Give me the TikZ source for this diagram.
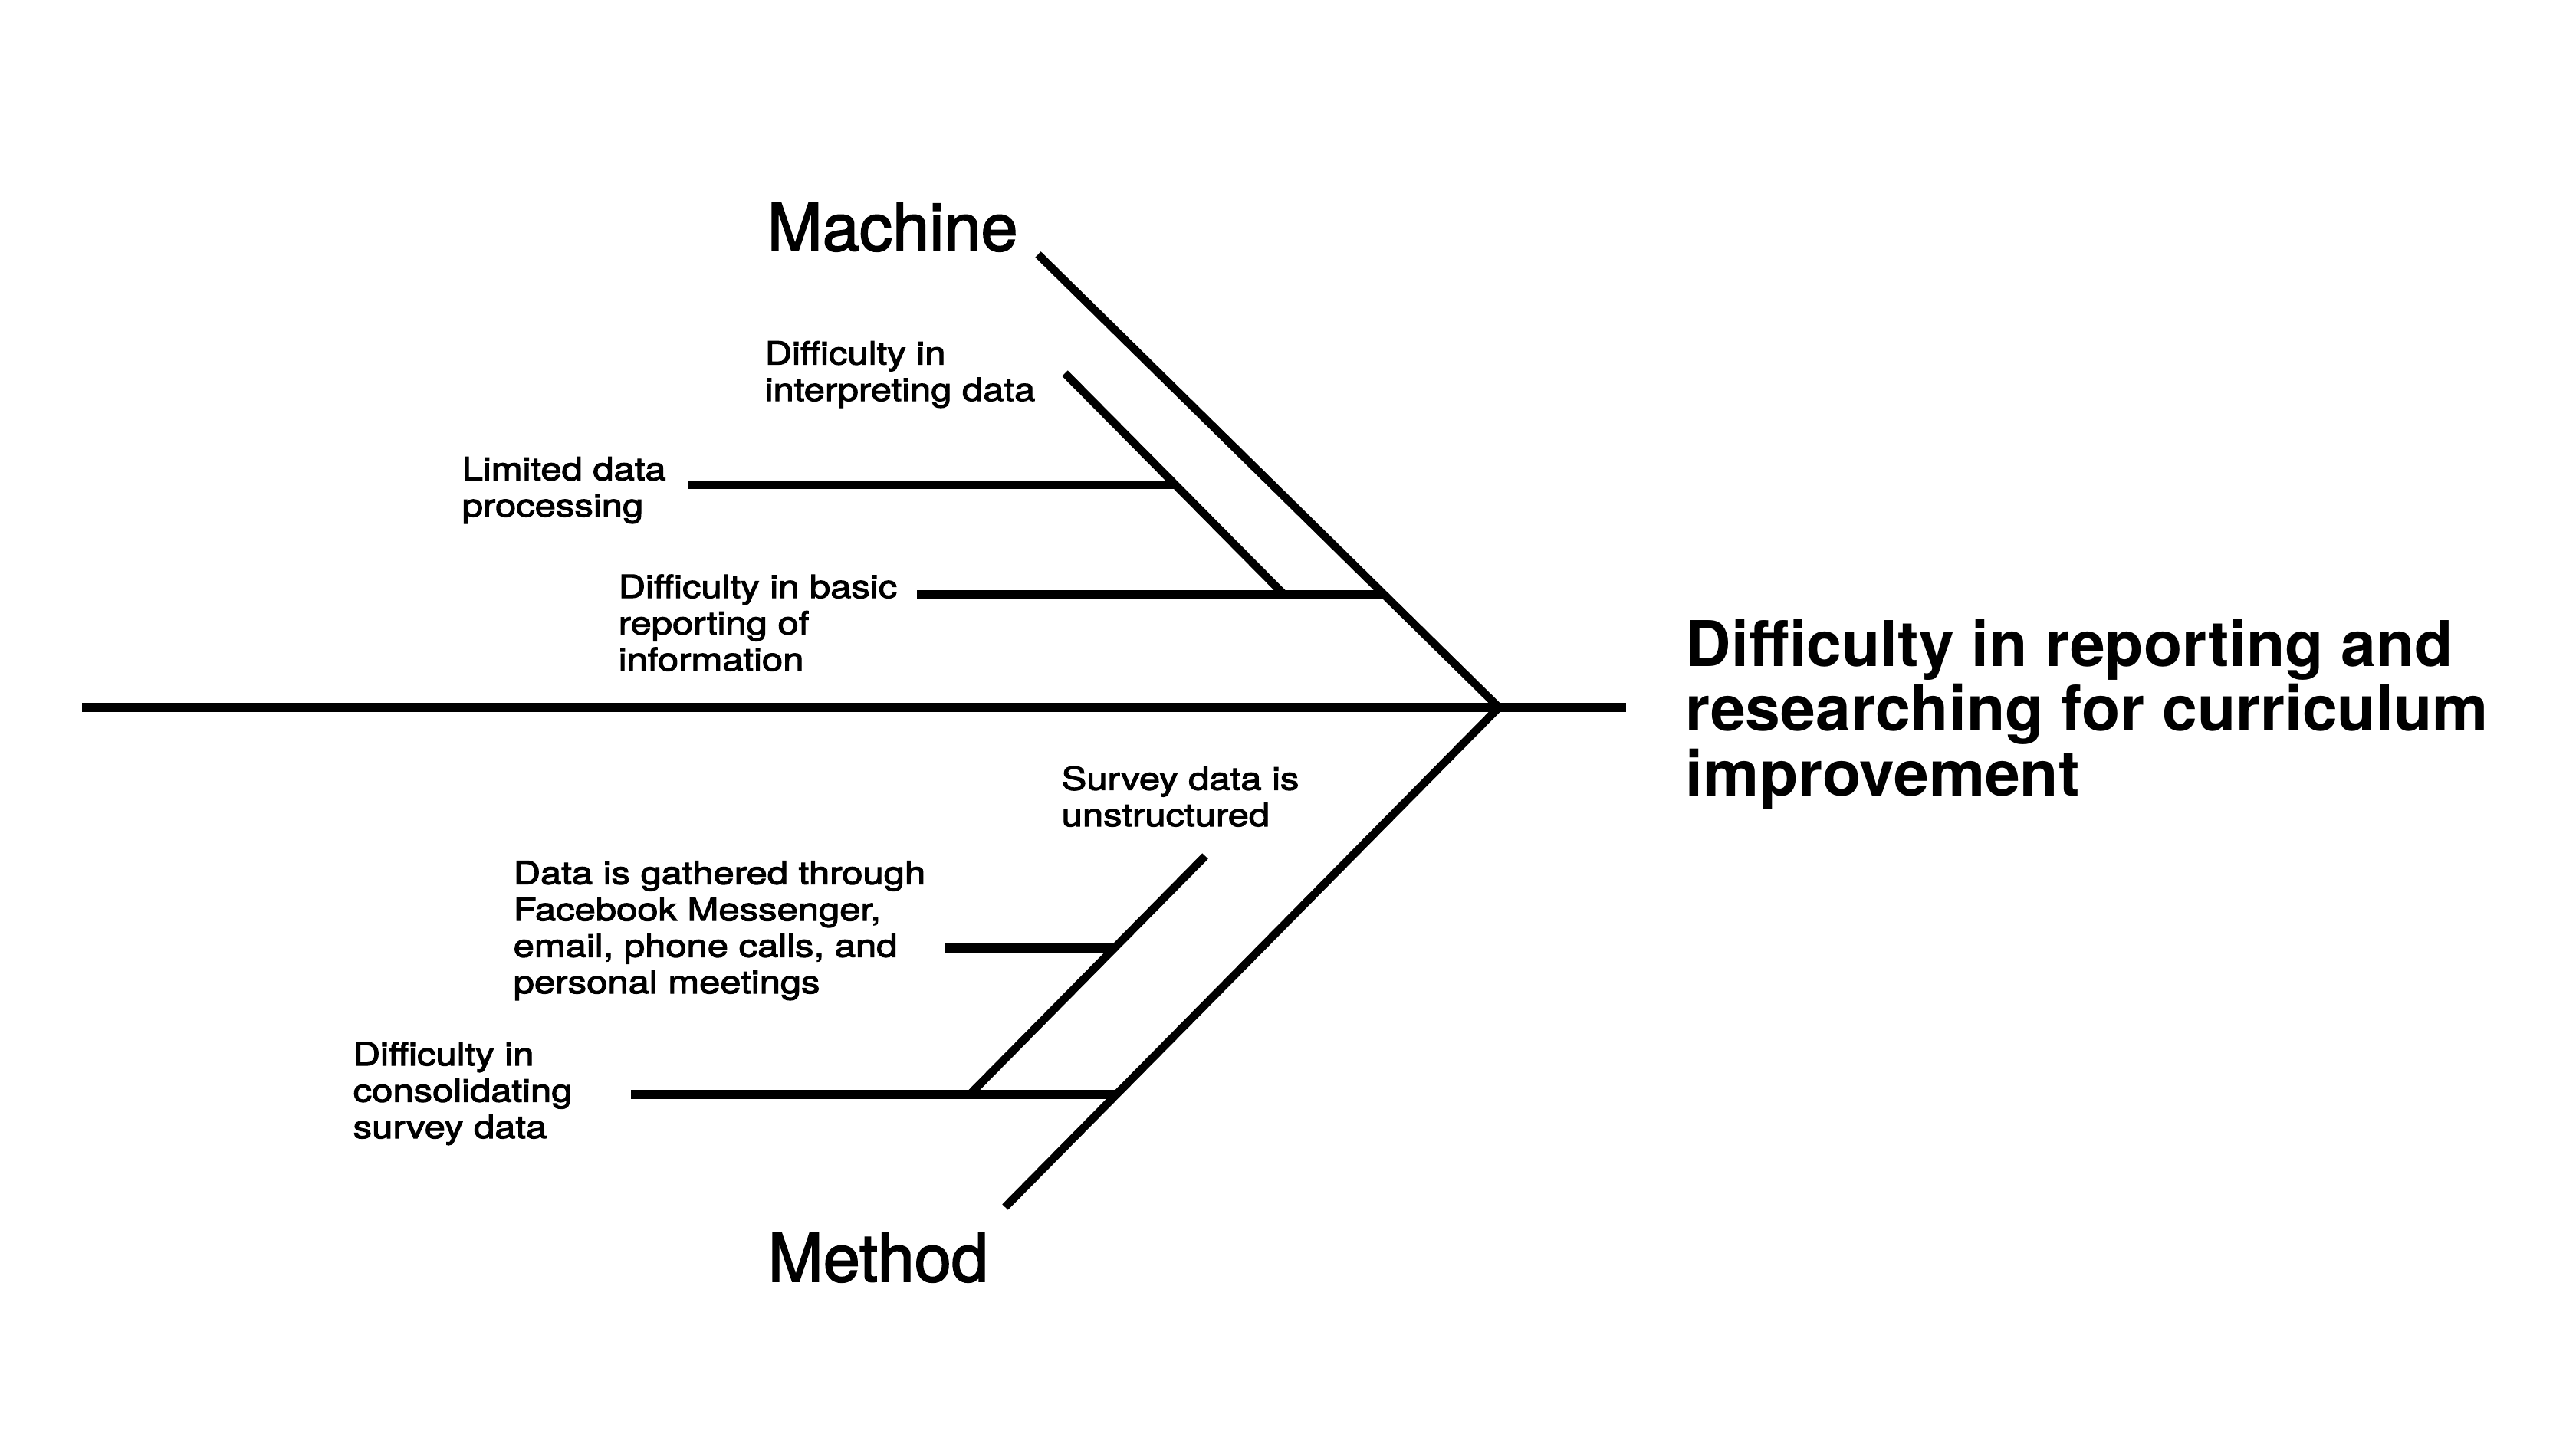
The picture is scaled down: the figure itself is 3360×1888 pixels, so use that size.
\documentclass[tikz,border=0pt]{standalone}
\usepackage{fontspec}
\setmainfont{TeX Gyre Heros}
\newfontfamily\leaffont{TeX Gyre Heros}[FakeBold=2.6, FakeStretch=1.18]
\newfontfamily\catfont{TeX Gyre Heros}[FakeBold=2]
\tikzset{>=stealth}
\tikzset{
    spine/.style={line width=3.3pt},
    bone/.style={line width=3.0pt},
    twig/.style={line width=3.3pt},
    leaf/.style={font=\leaffont\fontsize{11.8}{13.5}\selectfont, align=left, inner sep=0pt, anchor=base west},
    cause/.style={font=\catfont\fontsize{24.6}{26}\selectfont, inner sep=0pt, anchor=base west},
    effect/.style={font=\bfseries\fontsize{23.4}{23.9}\selectfont, align=left, inner sep=0pt, anchor=base west}
}

\begin{document}
\begin{tikzpicture}[x=0.01cm, y=-0.01cm]
    \useasboundingbox (0,0) rectangle (3360,1888);
    % fish skeleton
    \coordinate (tail) at (107,923);
    \coordinate (nose) at (2121,923);
    \coordinate (apex) at (1955,923);
    \coordinate (mach-top) at (1354,332);
    \coordinate (meth-bot) at (1311,1575);
    \draw[spine] (tail) -- (nose);
    \draw[bone] (mach-top) -- (apex) -- (meth-bot);
    % machine branch
    \coordinate (interp-top) at (1389,487);
    \coordinate (interp-bot) at (1675,776);
    \coordinate (limit-l) at (898,632.5);
    \coordinate (limit-r) at (1532,632.5);
    \coordinate (basic-l) at (1196,776);
    \coordinate (basic-r) at (1805,776);
    \draw[bone] (interp-top) -- (interp-bot);
    \draw[twig] (limit-l) -- (limit-r);
    \draw[twig] (basic-l) -- (basic-r);
    % method branch
    \coordinate (survey-top) at (1572,1117);
    \coordinate (survey-bot) at (1265,1428);
    \coordinate (gather-l) at (1233,1237);
    \coordinate (gather-r) at (1453,1237);
    \coordinate (consol-l) at (823,1428);
    \coordinate (consol-r) at (1457,1428);
    \draw[bone] (survey-top) -- (survey-bot);
    \draw[twig] (gather-l) -- (gather-r);
    \draw[twig] (consol-l) -- (consol-r);
    % labels (base = last line)
    \node[cause] (machine) at (1000,327) {Machine};
    \node[cause] (method) at (1001,1672) {Method};
    \node[leaf] (interp) at (997,523) {Difficulty in\\interpreting data};
    \node[leaf] (limit) at (602,674) {Limited data\\processing};
    \node[leaf] (basic) at (806,875) {Difficulty in basic\\reporting of\\information};
    \node[leaf] (survey) at (1384,1078) {Survey data is\\unstructured};
    \node[leaf] (gather) at (669,1296) {Data is gathered through\\Facebook Messenger,\\email, phone calls, and\\personal meetings};
    \node[leaf] (consol) at (460,1485) {Difficulty in\\consolidating\\survey data};
    \node[effect] (problem) at (2198,1038) {Difficulty in reporting and\\researching for curriculum\\improvement};
\end{tikzpicture}
\end{document}
